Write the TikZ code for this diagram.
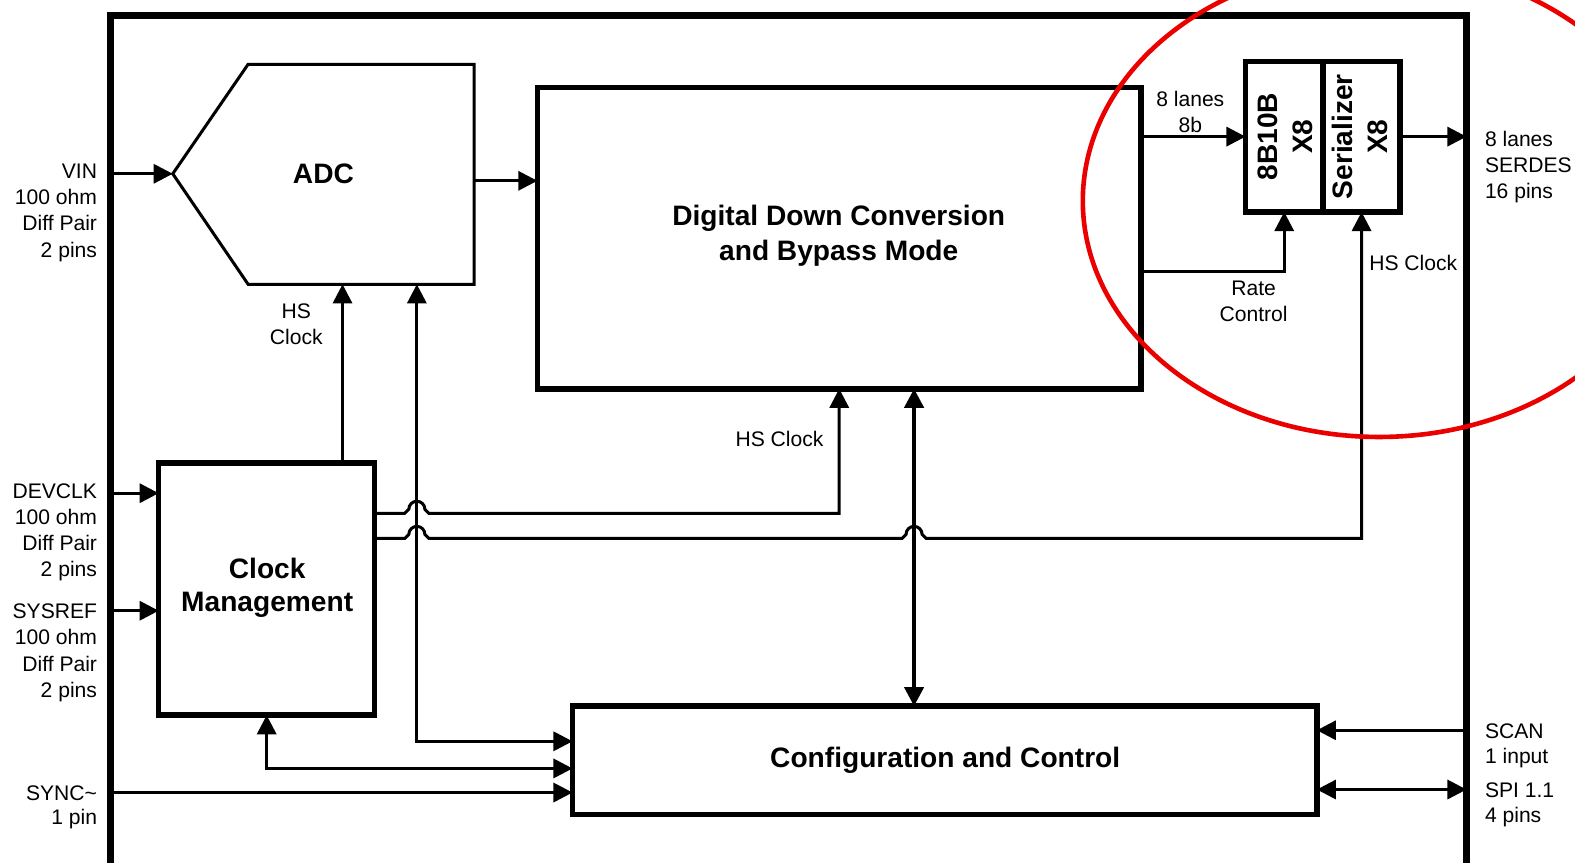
\documentclass[tikz,border=0pt]{standalone}
\usepackage{fontspec}
\setmainfont{Liberation Sans}
\usetikzlibrary{arrows.meta}
\definecolor{markred}{RGB}{235,0,0}
\begin{document}
\begin{tikzpicture}[x=0.5pt,y=-0.5pt,line join=miter,
  lnthin/.style={line width=1.5pt},
  arr/.style={lnthin,-{Triangle[length=9.5pt,width=9.5pt]}},
  arrtwo/.style={lnthin,{Triangle[length=9.5pt,width=9.5pt]}-{Triangle[length=9.5pt,width=9.5pt]}},
  blk/.style={draw,line width=2.75pt,inner sep=0pt,outer sep=0pt},
  lbl/.style={font=\fontsize{10.5}{13}\selectfont,inner sep=0pt},
  big/.style={font=\fontsize{14}{17.5}\selectfont\bfseries,align=center,inner sep=0pt},
  jmp/.style 2 args={insert path={-- ({#1-12},#2) -- ({#1-8},{#2-4}) arc[start angle=180,end angle=0,radius=4pt] -- ({#1+12},#2)}}]
\useasboundingbox (0,0) rectangle (1568,859);
\clip (0,0) rectangle (1568,859);

% outer frame
\coordinate (fL) at (110,0);
\coordinate (fR) at (1460,0);
\draw[line width=3.5pt] (110,900) -- (110,15.5) -- (1460,15.5) -- (1460,900);

% ADC
\coordinate (adctip) at (172,173);
\coordinate (adcbA) at (341,283);
\coordinate (adcbB) at (415,283);
\coordinate (adcout) at (472,180);
\draw[line width=1.5pt] (adctip) -- (247,64) -- (472,64) -- (472,283) -- (247,283) -- cycle;
\node[big] (adc) at (322,173) {ADC};

% blocks
\node[blk,minimum width=300.5pt,minimum height=150pt] (ddc) at (835.5,237) {};
\node[big] (ddct) at (835,235) {Digital Down Conversion\\and Bypass Mode};
\node[blk,minimum width=38.5pt,minimum height=75pt] (enc) at (1278.5,136) {};
\node[blk,minimum width=38.5pt,minimum height=75pt] (ser) at (1355.5,136) {};
\node[big,rotate=90] (enct) at (1279.5,136) {8B10B\\X8};
\node[big,rotate=90] (sert) at (1353.5,136) {Serializer\\X8};
\node[blk,minimum width=107.5pt,minimum height=125.5pt] (clk) at (265.5,586.5) {};
\node[big,font=\fontsize{14}{16.5}\selectfont\bfseries] (clkt) at (266,585) {Clock\\Management};
\node[blk,minimum width=370.5pt,minimum height=54pt] (cfg) at (940.5,757) {};
\node[big] (cfgt) at (941,757) {Configuration and Control};

% connectors
\draw[arr] (fL |- adctip) -- (adctip);
\draw[arr] (adcout) -- (ddc.west |- adcout);
\draw[arr] (ddc.east |- enc.west) -- (enc.west);
\draw[arr] (ser.east) -- (ser.east -| fR);
\draw[arr] (ddc.east |- 0,270) -| (enc.south);
\draw[arr] (clk.north -| adcbA) -- (adcbA);
\draw[arrtwo] (adcbB) |- (cfg.west |- 0,738);
\draw[arr] (clk.east |- 0,511) [jmp={415}{511}] -- (ddc.south |- 0,511) -- (ddc.south);
\draw[arr] (clk.east |- 0,536) [jmp={415}{536}] [jmp={910}{536}] -- (ser.south |- 0,536) -- (ser.south);
\draw[line width=2pt,{Triangle[length=9.5pt,width=9.5pt]}-{Triangle[length=9.5pt,width=9.5pt]}] (ddc.south -| 910,0) -- (cfg.north -| 910,0);
\draw[arrtwo] (clk.south) |- (cfg.west |- 0,765);
\draw[arr] (fL |- 0,491) -- (clk.west |- 0,491);
\draw[arr] (fL |- 0,608) -- (clk.west |- 0,608);
\draw[arr] (fL |- 0,789) -- (cfg.west |- 0,789);
\draw[arr] (fR |- 0,727) -- (cfg.east |- 0,727);
\draw[arrtwo] (cfg.east |- 0,786) -- (fR |- 0,786);

% labels
\node[lbl,align=right,anchor=north east] (lvin) at (97,163) {VIN\\100 ohm\\Diff Pair\\2 pins};
\node[lbl,align=right,anchor=north east] (ldev) at (97,481) {DEVCLK\\100 ohm\\Diff Pair\\2 pins};
\node[lbl,align=right,anchor=north east] (lsys) at (97,601) {SYSREF\\100 ohm\\Diff Pair\\2 pins};
\node[lbl,align=right,anchor=north east,font=\fontsize{10.5}{12}\selectfont] (lsync) at (97,782) {SYNC\textasciitilde\\1 pin};
\node[lbl,align=center,anchor=north] (lhsa) at (295,302) {HS\\Clock};
\node[lbl,align=center,anchor=north] (lhsd) at (776,429) {HS Clock};
\node[lbl,align=center,anchor=north] (llanes) at (1185,90) {8 lanes\\8b};
\node[lbl,align=center,anchor=north] (lrate) at (1248,279) {Rate\\Control};
\node[lbl,align=center,anchor=north] (lhss) at (1407,254) {HS Clock};
\node[lbl,align=left,anchor=north west] (lserdes) at (1478,130) {8 lanes\\SERDES\\16 pins};
\node[lbl,align=left,anchor=north west,font=\fontsize{10.5}{12.5}\selectfont] (lscan) at (1478,720) {SCAN\\1 input};
\node[lbl,align=left,anchor=north west,font=\fontsize{10.5}{12.5}\selectfont] (lspi) at (1478,779) {SPI 1.1\\4 pins};

% red marking
\draw[markred,line width=2.3pt] (1373,200) ellipse [x radius=147.5pt,y radius=117.5pt];
\end{tikzpicture}
\end{document}
